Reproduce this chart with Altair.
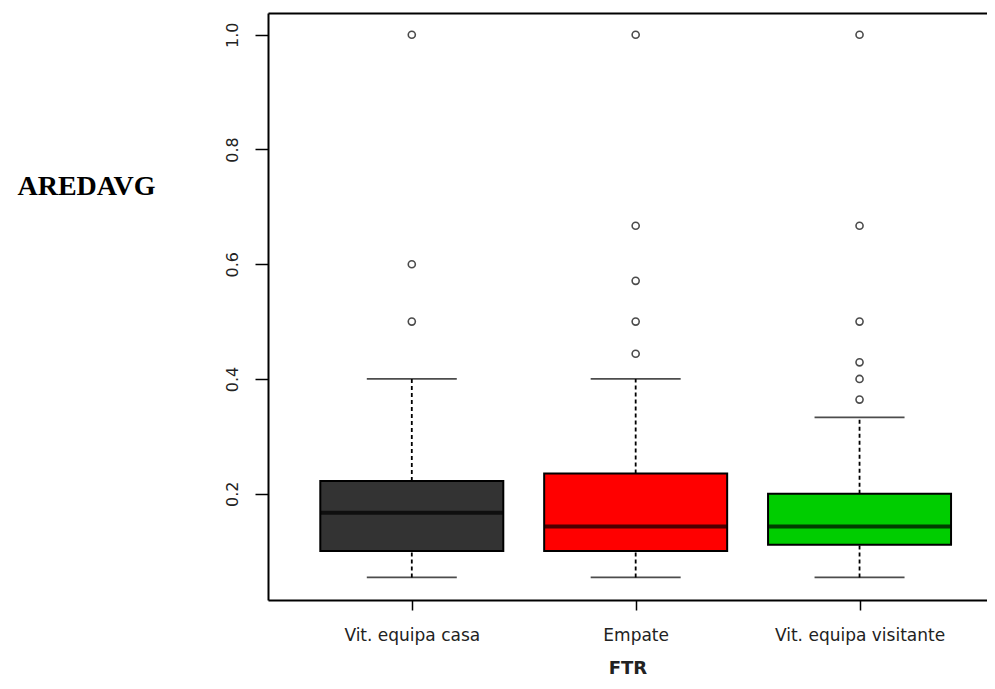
import altair as alt
import pandas as pd

# ---- data ----
categories = ["Vit. equipa casa", "Empate", "Vit. equipa visitante"]
positions = [1, 2, 3]
box_colors = ["#333333", "#FF0000", "#00CD00"]
q1 = [0.100, 0.100, 0.111]
median = [0.167, 0.143, 0.143]
q3 = [0.222, 0.235, 0.200]
whisker_low = [0.054, 0.054, 0.054]
whisker_high = [0.400, 0.400, 0.333]
outliers_casa = [0.500, 0.600, 1.000]
outliers_empate = [0.444, 0.500, 0.571, 0.667, 1.000]
outliers_visitante = [0.364, 0.400, 0.429, 0.500, 0.667, 1.000]
y_ticks = [0.2, 0.4, 0.6, 0.8, 1.0]

stats = pd.DataFrame({
    "cat": categories, "pos": positions, "q1": q1, "med": median,
    "q3": q3, "lo": whisker_low, "hi": whisker_high,
})
out_rows = []
for c, p, vals in zip(categories, positions, [outliers_casa, outliers_empate, outliers_visitante]):
    for v in vals:
        out_rows.append({"cat": c, "pos": p, "v": v})
outs = pd.DataFrame(out_rows)

label_expr = " : ".join(
    [f"datum.value == {p} ? '{c}'" for p, c in zip(positions, categories)]
) + " : ''"

# plot area is cut off on the right, as in the reference
xscale = alt.Scale(domain=[0.38, 3.547], nice=False, zero=False)
yscale = alt.Scale(domain=[0.0147, 1.0379], nice=False, zero=False)

x_axis = alt.Axis(
    values=positions, labelExpr=label_expr, grid=False,
    domain=True, domainColor="black", domainWidth=2,
    tickSize=10, tickColor="black", tickWidth=1.5,
    labelFont="DejaVu Sans", labelFontSize=17, labelColor="#222222",
    labelBaseline="alphabetic", labelPadding=30, labelFlush=False, labelOverlap=False,
    title="FTR", titleFont="DejaVu Sans", titleFontSize=18, titleFontWeight="bold",
    titleColor="#222222", titleBaseline="alphabetic", titleY=73,
)
x_top_axis = alt.Axis(
    orient="top", values=positions, grid=False, labels=False, ticks=False, title=None,
    domain=True, domainColor="black", domainWidth=2,
)
y_axis = alt.Axis(
    values=y_ticks, format=".1f", grid=False,
    domain=True, domainColor="black", domainWidth=2,
    tickSize=13, tickColor="black", tickWidth=1.5,
    labelFont="DejaVu Sans", labelFontSize=16, labelColor="#222222",
    labelAngle=270, labelAlign="center", labelBaseline="alphabetic", labelPadding=18,
    title="AREDAVG", titleAngle=0, titleAlign="left", titleBaseline="alphabetic",
    titleX=-251, titleY=181, titleFont="Liberation Serif", titleFontSize=28,
    titleFontWeight="bold", titleColor="black",
)

base = alt.Chart(stats)
X = alt.X("pos:Q", scale=xscale, axis=x_axis)

upper_whisker = base.mark_rule(color="black", strokeWidth=1.8, strokeDash=[4, 3]).encode(
    x=X, y=alt.Y("q3:Q", scale=yscale, axis=y_axis), y2="hi:Q")
lower_whisker = base.mark_rule(color="black", strokeWidth=1.8, strokeDash=[4, 3]).encode(
    x=X, y=alt.Y("lo:Q", scale=yscale), y2="q1:Q")
caps_hi = base.mark_tick(orient="horizontal", size=90, thickness=1.8, color="black").encode(
    x=X, y=alt.Y("hi:Q", scale=yscale))
caps_lo = base.mark_tick(orient="horizontal", size=90, thickness=1.8, color="black").encode(
    x=X, y=alt.Y("lo:Q", scale=yscale))
boxes = base.mark_bar(size=183, stroke="black", strokeWidth=2).encode(
    x=X, y=alt.Y("q1:Q", scale=yscale), y2="q3:Q",
    fill=alt.Fill("cat:N", scale=alt.Scale(domain=categories, range=box_colors), legend=None),
)
medians = base.mark_tick(orient="horizontal", size=183, thickness=4, color="black").encode(
    x=X, y=alt.Y("med:Q", scale=yscale))
points = alt.Chart(outs).mark_point(shape="circle", filled=False, size=50, strokeWidth=1.6, color="black").encode(
    x=X, y=alt.Y("v:Q", scale=yscale))

main = alt.layer(upper_whisker, lower_whisker, caps_hi, caps_lo, boxes, medians, points)

# top frame line, drawn as the domain of a second (top) x axis
top_frame = base.mark_point(opacity=0).encode(
    x=alt.X("pos:Q", scale=xscale, axis=x_top_axis), y=alt.Y("med:Q", scale=yscale))

chart = alt.layer(main, top_frame).resolve_scale(x="independent").properties(
    width=719, height=587,
    autosize="none",
    padding={"left": 260, "top": 5, "right": 0, "bottom": 78},
    background="white",
).configure_view(stroke=None)

chart.save("out.html", embed_options={"renderer": "svg", "actions": False})
